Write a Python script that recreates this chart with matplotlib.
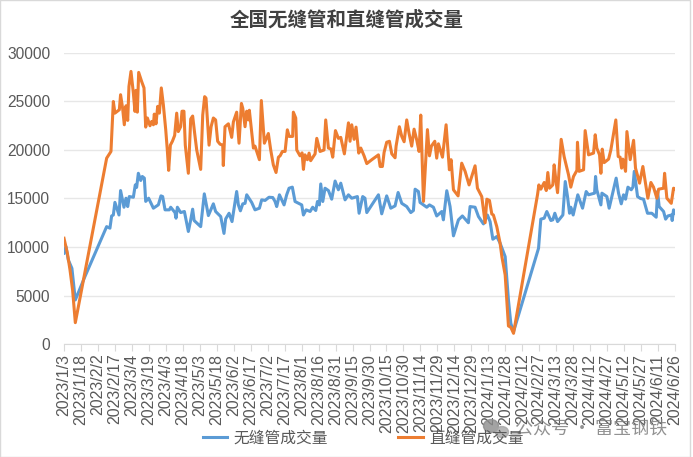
import matplotlib
matplotlib.use('Agg')
import matplotlib.pyplot as plt
import pandas as pd
from matplotlib.patches import Ellipse, Rectangle

plt.rcParams['font.family'] = ['Liberation Sans', 'Noto Sans CJK SC', 'DejaVu Sans']

start_date = '2023-01-03'
tick_step = 15
last_day = 540

# days after start date
seamless_days = [0, 1.7, 3.8, 7, 10, 18.5, 37.7, 40.6, 42.1, 43.6, 45, 48.6, 50, 53, 54.8, 56.3, 57.7, 61.3, 63, 64.2, 65.7, 67.8, 69.2, 71, 72.2, 74.8, 79, 83.4, 85.7, 87.2, 89.3, 93.1, 94.3, 98.1, 99, 100.2, 103.1, 106.4, 109.9, 112, 113.7, 115, 120.8, 124, 127.6, 132, 134, 138.5, 141.4, 142.9, 145.9, 148.5, 152.6, 154.1, 155.9, 158, 160, 161.5, 165.9, 168.8, 172.7, 174.7, 177.7, 181.2, 184.5, 186.5, 188, 190.4, 194.5, 196.8, 198.9, 201.8, 204.2, 210.1, 211.6, 214, 217.5, 219.8, 222.5, 224, 225.7, 226.9, 228.7, 230.7, 233.7, 236.6, 239.6, 242.5, 244.6, 248.4, 251.4, 254.3, 259.3, 260.8, 264, 266, 267.6, 277.9, 280.8, 285.2, 288.8, 292.6, 295.3, 298.5, 302.9, 306.5, 308.8, 310.3, 313.2, 314.7, 320.6, 323, 326.5, 329.4, 333.9, 335.3, 338.3, 341.2, 344.2, 348.6, 352.1, 357.4, 358.9, 363.3, 366.3, 370.7, 374.2, 376.6, 379, 382.5, 385.4, 389.9, 392.8, 394.9, 397.3, 419.4, 421.4, 424.4, 426.7, 430.3, 432, 433.8, 436.2, 440.9, 443, 445, 446.8, 447.9, 450, 454.1, 458.3, 461.5, 463.6, 468.9, 469.8, 470.9, 474.5, 475.4, 479.8, 481.8, 488, 490.1, 492.5, 494.5, 496.3, 498.4, 501.3, 502.8, 504, 506.9, 509.5, 512.2, 515.7, 519.5, 523.4, 524.6, 526, 529.9, 531.7, 533.7, 536.9, 537.5, 538.7, 540]
seamless_vals = [9360, 10050, 8670, 7800, 4540, 6950, 12100, 11940, 13200, 13300, 14600, 13300, 15820, 14100, 15030, 14170, 15200, 15130, 16400, 16150, 17600, 16860, 17270, 17100, 14700, 15030, 14000, 14350, 15270, 15200, 13830, 13830, 14100, 13550, 12970, 14100, 13550, 13660, 11600, 12800, 13900, 12730, 12100, 15480, 13240, 14450, 13660, 13140, 11400, 12900, 13480, 12620, 15720, 14350, 13730, 14450, 14500, 15380, 14590, 13830, 14000, 14860, 14800, 15130, 15100, 14700, 14170, 15380, 14340, 15380, 16060, 16170, 14690, 14340, 13300, 13830, 13660, 14100, 13760, 14690, 14340, 16500, 14690, 16060, 15820, 14930, 16800, 15900, 16580, 14860, 15380, 15030, 15200, 13480, 15200, 15030, 13550, 15380, 13420, 15270, 14000, 14240, 15620, 14500, 14170, 13550, 13760, 15960, 15720, 14590, 14100, 14340, 14100, 13200, 13660, 12800, 15800, 14170, 11150, 12800, 13200, 12500, 14170, 14100, 13140, 12380, 13300, 12620, 10800, 11080, 10400, 9010, 4540, 2130, 1270, 9870, 12870, 12970, 13660, 12730, 12800, 13480, 12620, 13300, 16750, 15200, 13480, 14100, 13300, 15380, 14000, 15720, 15380, 15550, 17270, 15900, 14340, 15550, 15200, 14000, 17100, 15550, 14450, 15380, 14930, 16170, 15900, 16170, 17800, 15200, 15000, 14930, 13480, 13480, 13070, 15720, 14170, 13660, 12870, 13200, 13300, 12730, 13830, 13480]

welded_days = [0, 3, 5.3, 7.6, 10, 37.7, 41.5, 43.6, 45, 48.9, 50, 51.8, 53.3, 54.8, 56.3, 57.4, 59.2, 61.3, 62.7, 63.6, 64.8, 66, 68.6, 70.7, 72.2, 73.7, 76, 77.5, 79, 79.8, 81.3, 82.8, 84.3, 86, 87.8, 89.9, 91.3, 92.5, 94, 95.8, 97.8, 99.6, 101, 103.1, 104.3, 106, 107.2, 109.9, 112, 113.7, 115.5, 117.3, 119, 120.8, 122.6, 124.3, 125.5, 128.2, 130, 132, 134, 135.8, 137.9, 140.3, 140.8, 142.3, 145.3, 148.2, 149.7, 152.6, 154.7, 156.8, 158, 160, 161.5, 163, 163.8, 167.4, 168.8, 172.7, 174.4, 177.1, 180.6, 182.7, 185, 187.4, 189.5, 191, 193, 195.4, 197.4, 199, 202.1, 202.7, 204.8, 205.7, 208.6, 210.4, 211.6, 213, 215.1, 216.6, 218, 221.9, 223.4, 226.3, 229.8, 231.3, 233.7, 236, 237.5, 239.9, 242.5, 244.6, 247.8, 251.4, 252.8, 254.3, 256.4, 258.1, 260.5, 262.3, 265.2, 267.6, 272, 277.9, 279.4, 281.4, 282.9, 285.2, 287.6, 289.7, 292.6, 293.5, 296.4, 298.5, 300.6, 302.9, 305, 307.3, 309.4, 311.8, 313.8, 315.3, 317.7, 321.2, 323, 324.7, 327.7, 329.4, 330.9, 334.5, 337.7, 340.6, 342.1, 344.2, 348.3, 351.5, 354.5, 358, 363.3, 365.4, 369.2, 372.2, 373.7, 376, 378.1, 379.5, 382.5, 385.4, 387, 389.9, 392.8, 394.9, 397.3, 418.5, 419.7, 421.4, 424.4, 426.2, 427.6, 429.1, 432, 433.2, 434.7, 436.2, 439.4, 442, 445.9, 447.9, 450.3, 453.3, 453.8, 455.3, 459.2, 460.6, 463.6, 468, 469.5, 470.9, 473.3, 474.5, 475.7, 477.4, 481.3, 483.3, 487.7, 489.8, 491.5, 492.8, 493.9, 496.3, 497.5, 500.4, 503.4, 505.1, 508.7, 511.6, 513.7, 516, 518.7, 521, 524, 525.5, 529.9, 530.8, 532.8, 536.7, 538.7, 540]
welded_vals = [10900, 9350, 7640, 5570, 2200, 19160, 19850, 25000, 23800, 24150, 25700, 24300, 22600, 24560, 23050, 26550, 28100, 25870, 23980, 26150, 23900, 28000, 27070, 26400, 22360, 23300, 22500, 22950, 22600, 23700, 22700, 24500, 23800, 26400, 24660, 22100, 20000, 17900, 20500, 20900, 21500, 23800, 21900, 22400, 24000, 24000, 20500, 17600, 23200, 23500, 21700, 20000, 19000, 18000, 23600, 25500, 25350, 20500, 22400, 23300, 23100, 20900, 20600, 20500, 18400, 22400, 22700, 21300, 22900, 23900, 20700, 24800, 24300, 22400, 24000, 23100, 24100, 20200, 20400, 19000, 25100, 20700, 21700, 20000, 18470, 17680, 19260, 19400, 19850, 19850, 22080, 21400, 21400, 23900, 23300, 20000, 19400, 19700, 18000, 19500, 19000, 19680, 18900, 19600, 21200, 19850, 20000, 23100, 20200, 20100, 19260, 22000, 21200, 21300, 19600, 22800, 20900, 22600, 21100, 22360, 19680, 20200, 19400, 18600, 19000, 19500, 18300, 18300, 19750, 20800, 20900, 19600, 19200, 20400, 22400, 21400, 20850, 23100, 21700, 20400, 22150, 21000, 19850, 23600, 14700, 22100, 19400, 20400, 20900, 19160, 20640, 19260, 22600, 17960, 19000, 15900, 15270, 18640, 17800, 16400, 18370, 16060, 15200, 12500, 14930, 14800, 13400, 13300, 12100, 10400, 9000, 7120, 1860, 1720, 1100, 15400, 16400, 15960, 16650, 15820, 17680, 16060, 16400, 18470, 16900, 15600, 21100, 19330, 17440, 16170, 17270, 17900, 20800, 17800, 17960, 22000, 19500, 19680, 21570, 20200, 19500, 17600, 20090, 18700, 19060, 20000, 23100, 19330, 19260, 18130, 19060, 17800, 21900, 19000, 21000, 18130, 16580, 18300, 16750, 15030, 16650, 16170, 15030, 15960, 16060, 17600, 15030, 14500, 16060, 16000]

y_ticks = [0, 5000, 10000, 15000, 20000, 25000, 30000]
title_text = '全国无缝管和直缝管成交量'
seamless_name = '无缝管成交量'
welded_name = '直缝管成交量'
watermark = '公众号 · 富宝钢铁'

w, h = 693, 457
fig = plt.figure(figsize=(w / 100, h / 100), dpi=100)
ax = fig.add_axes([64 / w, 1 - 344 / h, 611 / w, 291 / h])

ax.plot(seamless_days, seamless_vals, color='#5B9BD5', lw=2.2, label=seamless_name, solid_joinstyle='round')
ax.plot(welded_days, welded_vals, color='#ED7D31', lw=2.2, label=welded_name, solid_joinstyle='round')

# x ticks every 15 days, labels as 2023/1/3
x_ticks = list(range(0, last_day + 1, tick_step))
dates = pd.to_datetime(start_date) + pd.to_timedelta(x_ticks, unit='D')
x_labels = [f'{d.year}/{d.month}/{d.day}' for d in dates]

ax.set_xlim(0, last_day)
ax.set_ylim(0, 30000)
ax.set_xticks(x_ticks)
ax.set_xticklabels(x_labels, rotation=90, fontsize=11.5, color='#595959')
ax.set_yticks(y_ticks)
ax.set_yticklabels([str(v) for v in y_ticks], fontsize=11.2, color='#595959')
ax.tick_params(axis='y', length=0, pad=10)
ax.tick_params(axis='x', length=5, width=0.8, color='#D9D9D9', pad=2)
ax.grid(axis='y', color='#E7E7E7', lw=1)
ax.set_axisbelow(True)
for side in ['top', 'right', 'left']:
    ax.spines[side].set_visible(False)
ax.spines['bottom'].set_color('#D9D9D9')

fig.text(347 / w, 1 - 20 / h, title_text, ha='center', va='center', fontsize=14, fontweight='bold',
         color='#404040', family='Noto Sans CJK SC')

leg = fig.legend(loc='center', bbox_to_anchor=(363 / w, 1 - 438 / h), ncol=2, frameon=False,
                 labelcolor='#595959', handlelength=1.55, handletextpad=0.4, columnspacing=4.5,
                 prop={'family': 'Noto Sans CJK SC', 'size': 11.3})

# watermark on top of the legend
fig.text(515 / w, 1 - 430 / h, watermark, ha='left', va='center', fontsize=13, color='#7F7F7F', alpha=0.85,
         family='Noto Sans CJK SC')
fig.add_artist(Ellipse((491 / w, 1 - 426 / h), 15 / w, 13 / h, color='#8C8C8C', alpha=0.8, transform=fig.transFigure))
fig.add_artist(Ellipse((502 / w, 1 - 432 / h), 13 / w, 11 / h, color='#A6A6A6', alpha=0.8, transform=fig.transFigure))

# thin frame around the picture
fig.add_artist(Rectangle((0, 0), 690 / w, 1, fill=False, ec='#D9D9D9', lw=1, transform=fig.transFigure))

fig.savefig('out.png', dpi=100)
